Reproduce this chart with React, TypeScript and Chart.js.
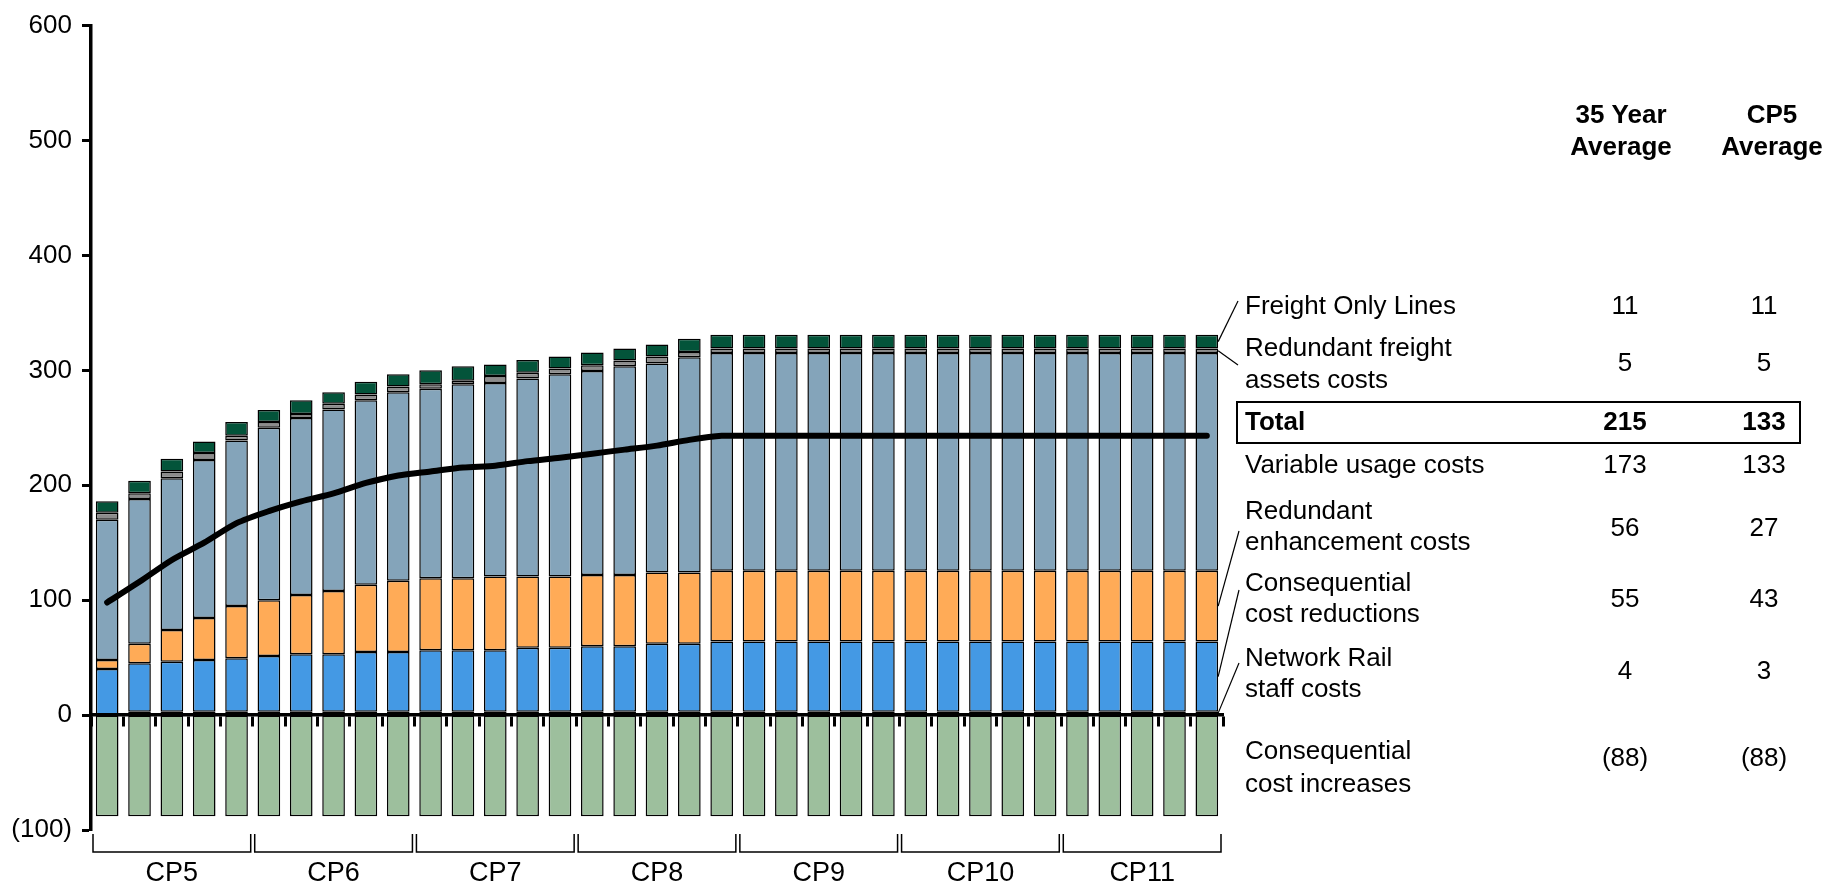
import React, { useEffect, useRef } from 'react';
import { Chart, registerables } from 'chart.js';

Chart.register(...registerables);

const FONT = '"Liberation Sans", Arial, sans-serif';

// ---- categories ----
const years = [
  '2014/15', '2015/16', '2016/17', '2017/18', '2018/19',
  '2019/20', '2020/21', '2021/22', '2022/23', '2023/24',
  '2024/25', '2025/26', '2026/27', '2027/28', '2028/29',
  '2029/30', '2030/31', '2031/32', '2032/33', '2033/34',
  '2034/35', '2035/36', '2036/37', '2037/38', '2038/39',
  '2039/40', '2040/41', '2041/42', '2042/43', '2043/44',
  '2044/45', '2045/46', '2046/47', '2047/48', '2048/49',
];
const cpLabels = ['CP5', 'CP6', 'CP7', 'CP8', 'CP9', 'CP10', 'CP11'];
const yearsPerCp = 5;

// ---- series ----
const networkRailStaff = [
  0, 3, 3, 3, 3, 3, 3, 3, 3, 3, 3, 3, 3, 3, 3, 3, 3, 3,
  3, 3, 3, 3, 3, 3, 3, 3, 3, 3, 3, 3, 3, 3, 3, 3, 3,
];
const consequentialReductions = [
  40, 42, 43.5, 45, 46.5, 48.5, 50, 50, 52, 52, 53.5, 53.5, 53.5, 55.5, 55.5, 57, 57, 59,
  59, 61, 61, 61, 61, 61, 61, 61, 61, 61, 61, 61, 61, 61, 61, 61, 61,
];
const redundantEnhancement = [
  8, 17, 27.5, 36.5, 45.5, 48.5, 51.5, 55, 58.5, 62, 62.5, 62.5, 64, 62, 62, 62, 62, 62,
  62, 61.5, 61.5, 61.5, 61.5, 61.5, 61.5, 61.5, 61.5, 61.5, 61.5, 61.5, 61.5, 61.5, 61.5, 61.5, 61.5,
];
const variableUsage = [
  122, 126, 132, 137.5, 144, 150, 154, 158, 160.5, 164, 165, 169, 168.5, 172.5, 176, 177.5, 181.5, 182,
  187.5, 189.5, 189.5, 189.5, 189.5, 189.5, 189.5, 189.5, 189.5, 189.5, 189.5, 189.5, 189.5, 189.5, 189.5, 189.5, 189.5,
];
const redundantFreightAssets = [
  6, 5, 6, 6, 4, 5, 3.5, 5, 5, 5, 4, 3, 6, 5, 5, 5, 5, 6,
  4.5, 4, 4, 4, 4, 4, 4, 4, 4, 4, 4, 4, 4, 4, 4, 4, 4,
];
const freightOnlyLines = [
  10, 11, 11, 10, 12, 10.5, 12, 10, 11, 10.5, 12, 12.5, 10, 11, 10.5, 11, 10.5, 10.5,
  11.5, 12, 12, 12, 12, 12, 12, 12, 12, 12, 12, 12, 12, 12, 12, 12, 12,
];
const consequentialIncreases = [
  -88, -88, -88, -88, -88, -88, -88, -88, -88, -88, -88, -88, -88, -88, -88, -88, -88, -88,
  -88, -88, -88, -88, -88, -88, -88, -88, -88, -88, -88, -88, -88, -88, -88, -88, -88,
];
const totalNet = [
  98, 116, 135, 150, 167, 177.5, 186, 193, 202, 208.5, 212, 215.5, 217, 221, 224, 227.5, 231, 234.5,
  239.5, 243, 243, 243, 243, 243, 243, 243, 243, 243, 243, 243, 243, 243, 243, 243, 243,
];

// ---- axis ----
const yMin = -100;
const yMax = 600;
const yStep = 100;

// ---- side table ----
const tableHeader35 = ['35 Year', 'Average'];
const tableHeaderCp5 = ['CP5', 'Average'];
const rowLabels = [
  ['Freight Only Lines'],
  ['Redundant freight', 'assets costs'],
  ['Total'],
  ['Variable usage costs'],
  ['Redundant', 'enhancement costs'],
  ['Consequential', 'cost reductions'],
  ['Network Rail', 'staff costs'],
  ['Consequential', 'cost increases'],
];
const avg35Year = ['11', '5', '215', '173', '56', '55', '4', '(88)'];
const avgCp5 = ['11', '5', '133', '133', '27', '43', '3', '(88)'];

const COLORS = {
  nrs: '#1b365d',
  ccr: '#4499e4',
  re: '#ffab57',
  vu: '#84a4ba',
  rfa: '#8c8c8c',
  fol: '#03543a',
  cci: '#9dbf9d',
};

// layout of side table (pixel positions)
const rowLineY = [[307], [349, 381], [423], [466], [512, 543], [584, 615], [659, 690], [752, 785]];
const rowValueY = [307, 364, 423, 466, 529, 600, 672, 759];
// leader lines: row index -> dataset index, label-side anchor
const leaders = [
  { row: 0, ds: 5, lx: 1238, ly: 301 },
  { row: 1, ds: 4, lx: 1238, ly: 365 },
  { row: 4, ds: 2, lx: 1239, ly: 531 },
  { row: 5, ds: 1, lx: 1239, ly: 590 },
  { row: 6, ds: 0, lx: 1239, ly: 663 },
];

const sidePlugin = {
  id: 'sideAnnotations',
  afterDraw(chart: any) {
    const { ctx, chartArea, scales } = chart;
    const x = scales.x;
    ctx.save();
    ctx.fillStyle = '#000';
    ctx.strokeStyle = '#000';

    // CP brackets
    const cw = x.getPixelForValue(1) - x.getPixelForValue(0);
    ctx.font = `27px ${FONT}`;
    ctx.textAlign = 'center';
    ctx.textBaseline = 'middle';
    ctx.lineWidth = 1.5;
    cpLabels.forEach((lab, g) => {
      const l = x.getPixelForValue(g * yearsPerCp) - cw / 2 + 2;
      const r = x.getPixelForValue(g * yearsPerCp + yearsPerCp - 1) + cw / 2 - 2;
      const top = chartArea.bottom + 4;
      const bot = chartArea.bottom + 22;
      ctx.beginPath();
      ctx.moveTo(l, top);
      ctx.lineTo(l, bot);
      ctx.lineTo(r, bot);
      ctx.lineTo(r, top);
      ctx.stroke();
      ctx.fillText(lab, (l + r) / 2, chartArea.bottom + 44);
    });

    // headers
    const col1 = 1625;
    const col2 = 1764;
    ctx.font = `bold 26px ${FONT}`;
    ctx.fillText(tableHeader35[0], 1621, 116);
    ctx.fillText(tableHeader35[1], 1621, 148);
    ctx.fillText(tableHeaderCp5[0], 1772, 116);
    ctx.fillText(tableHeaderCp5[1], 1772, 148);

    // rows
    rowLabels.forEach((lines, i) => {
      const bold = lines[0] === 'Total';
      ctx.font = `${bold ? 'bold ' : ''}26px ${FONT}`;
      ctx.textAlign = 'left';
      lines.forEach((t, k) => ctx.fillText(t, 1245, rowLineY[i][k]));
      ctx.textAlign = 'center';
      ctx.fillText(avg35Year[i], col1, rowValueY[i]);
      ctx.fillText(avgCp5[i], col2, rowValueY[i]);
    });

    // total box
    ctx.lineWidth = 2;
    ctx.strokeRect(1237, 402, 563, 41);

    // leader lines
    ctx.lineWidth = 1.2;
    leaders.forEach((ld) => {
      const meta = chart.getDatasetMeta(ld.ds);
      const el = meta.data[meta.data.length - 1];
      if (!el) return;
      const p = el.getProps(['x', 'y', 'base', 'width'], true);
      const bx = p.x + p.width / 2;
      const by = (p.y + p.base) / 2;
      ctx.beginPath();
      ctx.moveTo(bx, by);
      ctx.lineTo(ld.lx, ld.ly);
      ctx.stroke();
    });

    ctx.restore();
  },
};

function barDs(label: string, data: number[], color: string) {
  return {
    type: 'bar' as const,
    label,
    data,
    backgroundColor: color,
    borderColor: '#000',
    borderWidth: 1.5,
    borderSkipped: false,
    stack: 'bars',
    order: 1,
    barPercentage: 0.7,
    categoryPercentage: 1,
  };
}

export default function App() {
  const ref = useRef<HTMLCanvasElement | null>(null);

  useEffect(() => {
    if (!ref.current) return;
    const chart = new Chart(ref.current, {
      type: 'bar',
      data: {
        labels: years,
        datasets: [
          barDs('Network Rail staff costs', networkRailStaff, COLORS.nrs),
          barDs('Consequential cost reductions', consequentialReductions, COLORS.ccr),
          barDs('Redundant enhancement costs', redundantEnhancement, COLORS.re),
          barDs('Variable usage costs', variableUsage, COLORS.vu),
          barDs('Redundant freight assets costs', redundantFreightAssets, COLORS.rfa),
          barDs('Freight Only Lines', freightOnlyLines, COLORS.fol),
          barDs('Consequential cost increases', consequentialIncreases, COLORS.cci),
          {
            type: 'line' as const,
            label: 'Total',
            data: totalNet,
            borderColor: '#000',
            borderWidth: 6,
            pointRadius: 0,
            tension: 0.25,
            borderCapStyle: 'round',
            borderJoinStyle: 'round',
            stack: 'line',
            order: 0,
          } as any,
        ],
      },
      options: {
        responsive: false,
        animation: false,
        devicePixelRatio: 1,
        layout: { padding: { left: 0, top: 18, right: 615, bottom: 56 } },
        plugins: {
          legend: { display: false },
          tooltip: { enabled: false },
        },
        scales: {
          x: {
            stacked: true,
            position: { y: 0 } as any,
            z: 1,
            grid: {
              display: true,
              drawOnChartArea: false,
              drawTicks: true,
              tickLength: 10,
              tickWidth: 3,
              tickColor: '#000',
              offset: true,
            },
            border: { display: true, color: '#000', width: 3.5 },
            ticks: { display: false },
          },
          y: {
            stacked: true,
            min: yMin,
            max: yMax,
            afterFit: (s: any) => {
              s.width = 91;
            },
            ticks: {
              stepSize: yStep,
              padding: 10,
              color: '#000',
              font: { family: FONT, size: 26 },
              callback: (v: any) => (Number(v) < 0 ? `(${Math.abs(Number(v))})` : `${v}`),
            },
            grid: {
              display: true,
              drawOnChartArea: false,
              drawTicks: true,
              tickLength: 9,
              tickWidth: 3,
              tickColor: '#000',
            },
            border: { display: true, color: '#000', width: 3.5 },
          },
        },
      },
      plugins: [sidePlugin],
    } as any);
    return () => chart.destroy();
  }, []);

  return (
    <div style={{ position: 'fixed', left: 0, top: 0, width: 1838, height: 886, background: '#fff' }}>
      <canvas ref={ref} width={1838} height={886} style={{ width: 1838, height: 886, display: 'block' }} />
    </div>
  );
}
